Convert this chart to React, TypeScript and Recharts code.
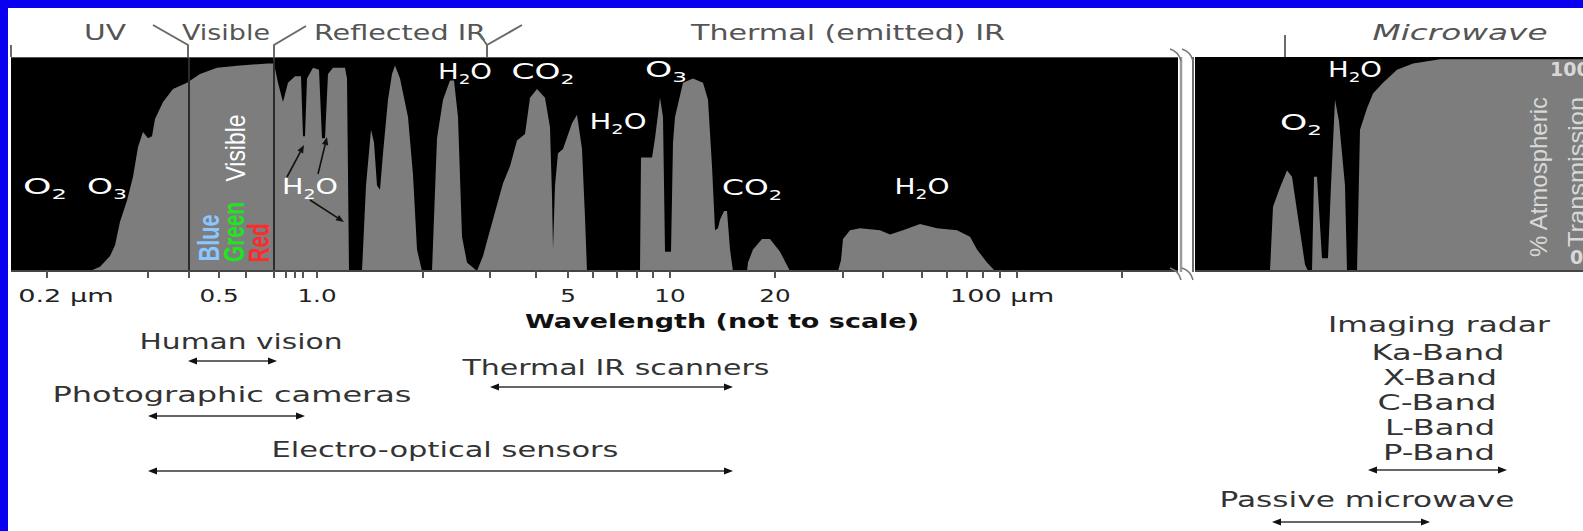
import React from 'react';
import { ComposedChart, Area, XAxis, YAxis, CartesianGrid, ReferenceLine } from 'recharts';

// the wavelength axis is "not to scale": x is a schematic position along it
// left panel (UV .. thermal IR)
const leftPos = [
  0, 79, 89, 99, 104, 109, 116, 122, 127, 132, 137, 141, 144, 152, 162, 176, 189, 206, 229, 257, 263,
  267, 272, 277, 284, 290, 292, 294, 296, 302, 308, 311, 314, 317, 322, 334, 336, 338,
  351, 355, 360, 363, 366, 369, 372, 377, 381, 384, 389, 397, 402, 406, 411,
  421, 426, 432, 439, 443, 447, 451, 456, 466,
  472, 479, 492, 499, 506, 514, 519, 526, 534, 539, 541, 542, 544, 547, 552, 561, 566, 571, 574, 576,
  629, 630, 641, 644, 649, 652, 654, 660, 662, 664, 672, 682, 692, 697, 701, 704, 707, 709, 713, 716, 719, 722,
  736, 737, 742, 751, 759, 769, 779,
  827, 830, 832, 839, 849, 869, 879, 892, 909, 926, 946, 959, 966, 976, 984, 1167,
];
const leftTrans = [
  0, 0, 2, 7, 12, 23, 33, 44, 58, 65, 62, 63, 71, 79, 85, 88, 92, 95, 96, 97, 97,
  88, 79, 88, 91, 91, 63, 63, 90, 95, 94, 62, 62, 92, 95, 95, 90, 0,
  0, 40, 66, 60, 40, 38, 55, 80, 92, 96, 90, 72, 45, 10, 0,
  0, 62, 80, 89, 89, 72, 16, 4, 0,
  7, 19, 41, 49, 61, 64, 81, 85, 81, 67, 35, 10, 40, 55, 57, 69, 73, 57, 25, 0,
  0, 53, 53, 62, 81, 72, 9, 9, 60, 72, 88, 90, 88, 80, 49, 19, 20, 24, 28, 28, 10, 0,
  0, 4, 10, 15, 15, 9, 0,
  0, 5, 15, 19, 20, 19, 17, 19, 22, 20, 19, 16, 10, 4, 0, 0,
];

// right panel (microwave)
const rightPos = [
  0, 75, 78, 85, 92, 97, 103, 110, 113, 117, 119, 122, 127, 133, 136, 140, 144, 148, 150, 152,
  162, 165, 172, 178, 188, 202, 218, 245, 420,
];
const rightTrans = [
  0, 0, 30, 39, 47, 44, 25, 3, 0, 0, 44, 44, 6, 6, 40, 80, 70, 50, 40, 0,
  0, 66, 76, 83, 88, 94, 97, 99, 99,
];

const leftTickPos = [
  36, 137, 178, 208, 235, 263, 275, 284, 292, 306, 412, 479, 525, 557, 582, 606, 626, 642, 659,
  764, 832, 872, 911, 936, 956, 972, 989, 1006, 1111,
];
const leftTickText = [
  '0.2 µm', '', '', '0.5', '', '', '', '', '', '1.0', '', '', '', '5', '', '', '', '', '10',
  '20', '', '', '', '', '', '100 µm', '', '', '',
];
const rightTickPos = [90, 203, 315];

// visible band edges
const visibleEdges = [178, 263];

// sensor ranges along the same schematic axis
const sensorNames = ['Human vision', 'Photographic cameras', 'Thermal IR scanners', 'Electro-optical sensors'];
const sensorFrom = [177, 137, 479, 137];
const sensorTo = [266, 294, 722, 722];
const radarNames = ['Imaging radar', 'Passive microwave'];
const radarFrom = [173, 77];
const radarTo = [312, 235];
const radarBands = ['Ka-Band', 'X-Band', 'C-Band', 'L-Band', 'P-Band'];

const leftData = leftPos.map((p, i) => ({ pos: p, t: leftTrans[i] }));
const rightData = rightPos.map((p, i) => ({ pos: p, t: rightTrans[i] }));

// page y -> % value below the plot (plot spans page y 57..271)
const rowY = (py: number) => (271 - py) / 2.14;
const sensorRows = [361, 416, 387, 471].map(rowY);
const radarRows = [470, 522].map(rowY);

const FONT = "'DejaVu Sans', 'Liberation Sans', sans-serif";
const NARROW = "'Liberation Sans Narrow', 'Liberation Sans', sans-serif";

const RangeArrow = (props: any) => {
  const { x1, y1, x2 } = props;
  const h = 9;
  const w = 3.5;
  return (
    <g>
      <line x1={x1 + 4} y1={y1} x2={x2 - 4} y2={y1} stroke="#666" strokeWidth={2} />
      <polygon points={`${x1},${y1} ${x1 + h},${y1 - w} ${x1 + h},${y1 + w}`} fill="#111" />
      <polygon points={`${x2},${y1} ${x2 - h},${y1 - w} ${x2 - h},${y1 + w}`} fill="#111" />
    </g>
  );
};

const LeftTick = (props: any) => {
  const { x, y, payload } = props;
  const label = leftTickText[leftTickPos.indexOf(payload.value)];
  if (!label) return <g />;
  const unit = label.includes('µm');
  return (
    <text
      transform={`translate(${x + (unit ? 19 : 0)},${y + 22}) scale(${unit ? 1.6 : 1.45},1)`}
      textAnchor="middle"
      fontSize={17}
      fontFamily={FONT}
      fill="#222"
    >
      {label}
    </text>
  );
};

const RightTick = (props: any) => {
  const { x, y, payload } = props;
  const top = payload.value === 100;
  return (
    <text
      x={top ? x - 65 : x - 45}
      y={top ? y + 19 : y - 7}
      fontSize={19}
      fontWeight="bold"
      fontFamily={FONT}
      fill="#d8d8d8"
    >
      {payload.value}
    </text>
  );
};

function Txt(p: {
  x: number; y: number; w: number; children: React.ReactNode;
  size?: number; fill?: string; bold?: boolean; italic?: boolean;
}) {
  return (
    <text
      x={p.x}
      y={p.y}
      textAnchor="middle"
      textLength={p.w}
      lengthAdjust="spacingAndGlyphs"
      fontSize={p.size ?? 21}
      fontFamily={FONT}
      fontWeight={p.bold ? 'bold' : 'normal'}
      fontStyle={p.italic ? 'italic' : 'normal'}
      fill={p.fill ?? '#333'}
    >
      {p.children}
    </text>
  );
}

// chemical formula, "_2" marks a subscript digit
function Chem({ x, y, w, f }: { x: number; y: number; w: number; f: string }) {
  const parts: React.ReactNode[] = [];
  let sub = false;
  let wasSub = false;
  let k = 0;
  for (const ch of f) {
    if (ch === '_') { sub = true; continue; }
    if (sub) {
      parts.push(<tspan key={k++} fontSize={14} dy={5}>{ch}</tspan>);
      sub = false;
      wasSub = true;
    } else {
      parts.push(<tspan key={k++} dy={wasSub ? -5 : 0}>{ch}</tspan>);
      wasSub = false;
    }
  }
  return (
    <text
      x={x}
      y={y + 7}
      textAnchor="middle"
      textLength={w}
      lengthAdjust="spacingAndGlyphs"
      fontSize={21}
      fontFamily={FONT}
      fill="#fff"
    >
      {parts}
    </text>
  );
}

function Vert({ x, y, len, text, fill, size, bold }: {
  x: number; y: number; len: number; text: string; fill: string; size: number; bold?: boolean;
}) {
  return (
    <text
      transform={`translate(${x},${y}) rotate(-90)`}
      y={size * 0.36}
      textAnchor="middle"
      textLength={len}
      lengthAdjust="spacingAndGlyphs"
      fontSize={size}
      fontFamily={NARROW}
      fontWeight={bold ? 'bold' : 'normal'}
      fill={fill}
    >
      {text}
    </text>
  );
}

function Pointer({ x1, y1, x2, y2 }: { x1: number; y1: number; x2: number; y2: number }) {
  const a = Math.atan2(y2 - y1, x2 - x1);
  const h = 8;
  const w = 3.2;
  const bx = x2 - h * Math.cos(a);
  const by = y2 - h * Math.sin(a);
  const p1 = `${bx - w * Math.sin(a)},${by + w * Math.cos(a)}`;
  const p2 = `${bx + w * Math.sin(a)},${by - w * Math.cos(a)}`;
  return (
    <g>
      <line x1={x1} y1={y1} x2={bx} y2={by} stroke="#111" strokeWidth={1.6} />
      <polygon points={`${x2},${y2} ${p1} ${p2}`} fill="#111" />
    </g>
  );
}

export default function App() {
  return (
    <>
      <style>{`html,body{margin:0;padding:0;background:#0800ee;overflow:hidden}`}</style>
      <div style={{ position: 'absolute', left: 8, top: 8, width: 1575, height: 523, background: '#fff', overflow: 'hidden' }}>
        <div style={{ position: 'absolute', left: 0, top: 0 }}>
          <ComposedChart width={1185} height={523} data={leftData} margin={{ top: 49, right: 15, bottom: 230, left: 3 }}>
            <CartesianGrid fill="#000" horizontal={false} vertical={false} />
            <XAxis
              type="number"
              dataKey="pos"
              domain={[0, 1167]}
              ticks={leftTickPos}
              interval={0}
              height={30}
              tickSize={7}
              tickLine={{ stroke: '#555', strokeWidth: 2 }}
              axisLine={{ stroke: '#444', strokeWidth: 2 }}
              tick={LeftTick}
            />
            <YAxis type="number" domain={[0, 100]} hide />
            <Area
              type="linear"
              dataKey="t"
              stroke="none"
              fill="#7d7d7d"
              fillOpacity={1}
              isAnimationActive={false}
            />
            {visibleEdges.map((v) => (
              <ReferenceLine key={v} x={v} stroke="#2b2b2b" strokeWidth={2} />
            ))}
            {sensorNames.map((n, i) => (
              <ReferenceLine
                key={n}
                segment={[{ x: sensorFrom[i], y: sensorRows[i] }, { x: sensorTo[i], y: sensorRows[i] }]}
                ifOverflow="visible"
                shape={RangeArrow}
              />
            ))}
          </ComposedChart>
        </div>
        <div style={{ position: 'absolute', left: 1187, top: 0 }}>
          <ComposedChart width={420} height={523} data={rightData} margin={{ top: 49, right: 0, bottom: 230, left: 0 }}>
            <CartesianGrid fill="#000" horizontal={false} vertical={false} />
            <XAxis
              type="number"
              dataKey="pos"
              domain={[0, 420]}
              ticks={rightTickPos}
              interval={0}
              height={30}
              tickSize={7}
              tickLine={{ stroke: '#666', strokeWidth: 2 }}
              axisLine={{ stroke: '#444', strokeWidth: 2 }}
              tick={false}
            />
            <YAxis
              type="number"
              orientation="right"
              mirror
              domain={[0, 100]}
              ticks={[0, 100]}
              tickSize={0}
              tickMargin={0}
              axisLine={false}
              tickLine={false}
              tick={RightTick}
            />
            <Area
              type="linear"
              dataKey="t"
              stroke="none"
              fill="#7d7d7d"
              fillOpacity={1}
              isAnimationActive={false}
            />
            {radarNames.map((n, i) => (
              <ReferenceLine
                key={n}
                segment={[{ x: radarFrom[i], y: radarRows[i] }, { x: radarTo[i], y: radarRows[i] }]}
                ifOverflow="visible"
                shape={RangeArrow}
              />
            ))}
          </ComposedChart>
        </div>
        <svg width={1583} height={531} style={{ position: 'absolute', left: 0, top: 0, pointerEvents: 'none' }}>
          <g transform="translate(-8,-8)">
            {/* region headings */}
            <Txt x={105} y={40} w={42} fill="#555">UV</Txt>
            <Txt x={226} y={40} w={88} fill="#555">Visible</Txt>
            <Txt x={400} y={40} w={172} fill="#555">Reflected IR</Txt>
            <Txt x={848} y={40} w={314} fill="#555">Thermal (emitted) IR</Txt>
            <Txt x={1460} y={40} w={175} fill="#555" italic>Microwave</Txt>
            <g stroke="#6a6a6a" strokeWidth={2} fill="none">
              <polyline points="11,45 11,57" />
              <polyline points="153,25 188,45 188,57" />
              <polyline points="274,57 274,45 306,26" />
              <polyline points="487,57 487,45 522,25" />
              <polyline points="487,45 480,35" />
              <polyline points="1285,35 1285,57" />
            </g>
            <line x1={11} y1={57.5} x2={1178} y2={57.5} stroke="#555" strokeWidth={1} />

            {/* panel break */}
            <rect x={1178} y={48} width={17} height={236} fill="#fff" />
            <line x1={1181} y1={57} x2={1181} y2={272} stroke="#9a9a9a" strokeWidth={2.5} />
            <line x1={1193} y1={57} x2={1193} y2={272} stroke="#6c6c6c" strokeWidth={2} />
            <g stroke="#777" strokeWidth={1.5} fill="none">
              <path d="M1170,49 q9,3 11,12" />
              <path d="M1182,49 q9,3 11,12" />
              <path d="M1170,268 q9,3 11,12" />
              <path d="M1182,268 q9,3 11,12" />
            </g>

            {/* absorbers */}
            <Chem x={45} y={187} w={44} f="O_2" />
            <Chem x={107} y={187} w={40} f="O_3" />
            <Chem x={310} y={187} w={56} f="H_2O" />
            <Chem x={465} y={72} w={54} f="H_2O" />
            <Chem x={543} y={72} w={63} f="CO_2" />
            <Chem x={618} y={122} w={57} f="H_2O" />
            <Chem x={666} y={70} w={42} f="O_3" />
            <Chem x={752} y={188} w={60} f="CO_2" />
            <Chem x={922} y={187} w={55} f="H_2O" />
            <Chem x={1301} y={123} w={42} f="O_2" />
            <Chem x={1355} y={70} w={54} f="H_2O" />
            <Pointer x1={287} y1={177} x2={304} y2={145} />
            <Pointer x1={318} y1={174} x2={327} y2={137} />
            <Pointer x1={310} y1={200} x2={344} y2={222} />

            {/* visible band words */}
            <Vert x={209} y={238} len={47} text="Blue" fill="#8cc6ff" size={29} bold />
            <Vert x={234} y={232} len={60} text="Green" fill="#1ee61e" size={29} bold />
            <Vert x={259} y={243} len={39} text="Red" fill="#ff2a2a" size={29} bold />
            <Vert x={235} y={148} len={67} text="Visible" fill="#fff" size={28} />

            {/* right axis title */}
            <Vert x={1538} y={177} len={160} text="% Atmospheric" fill="#d8d8d8" size={24} />
            <Vert x={1576} y={172} len={150} text="Transmission" fill="#d8d8d8" size={24} />

            {/* axis title and sensor labels */}
            <Txt x={722} y={328} w={394} size={19} bold fill="#111">Wavelength (not to scale)</Txt>
            <Txt x={241} y={349} w={203}>{sensorNames[0]}</Txt>
            <Txt x={232} y={402} w={359}>{sensorNames[1]}</Txt>
            <Txt x={616} y={375} w={307}>{sensorNames[2]}</Txt>
            <Txt x={445} y={457} w={347}>{sensorNames[3]}</Txt>
            <Txt x={1439} y={332} w={222}>{radarNames[0]}</Txt>
            <Txt x={1438} y={360} w={133}>{radarBands[0]}</Txt>
            <Txt x={1440} y={385} w={114}>{radarBands[1]}</Txt>
            <Txt x={1437} y={410} w={119}>{radarBands[2]}</Txt>
            <Txt x={1440} y={435} w={110}>{radarBands[3]}</Txt>
            <Txt x={1439} y={460} w={112}>{radarBands[4]}</Txt>
            <Txt x={1367} y={507} w={295}>{radarNames[1]}</Txt>
          </g>
        </svg>
      </div>
    </>
  );
}
